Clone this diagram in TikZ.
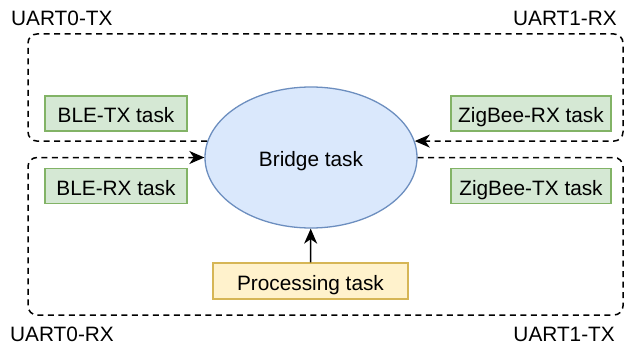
\documentclass[tikz,border=0pt]{standalone}
\usepackage{fontspec}
\setmainfont{Liberation Sans}
\usetikzlibrary{shapes.geometric,arrows.meta}

\definecolor{greenfill}{HTML}{D5E8D4}
\definecolor{greenline}{HTML}{82B366}
\definecolor{bluefill}{HTML}{DAE8FC}
\definecolor{blueline}{HTML}{6C8EBF}
\definecolor{yellowfill}{HTML}{FFF2CC}
\definecolor{yellowline}{HTML}{D6B656}

\tikzset{
  every node/.style={font=\fontsize{20.8}{24}\selectfont, inner sep=0pt},
  boxtext/.style={text height=18.4pt, text depth=0pt},
  taskbox/.style={boxtext, draw=greenline, fill=greenfill, line width=1.3pt,
    minimum height=35pt},
  procbox/.style={boxtext, draw=yellowline, fill=yellowfill, line width=1.3pt,
    minimum width=195pt, minimum height=36pt},
  bridgeshape/.style={boxtext, ellipse, draw=blueline, fill=bluefill, line width=1.3pt,
    minimum width=212pt, minimum height=141pt},
  uartlink/.style={dash pattern=on 6pt off 4.5pt, line width=1.5pt,
    rounded corners=9pt},
  tip/.style={-{Stealth[length=15pt, width=13pt, inset=4.5pt]}},
}

\begin{document}
\begin{tikzpicture}[x=1pt, y=-1pt]
  \useasboundingbox (0,0) rectangle (627,345);

  % central bridge
  \node[bridgeshape] (bridge) at (311,157.5) {Bridge task};

  % radio tasks
  \node[taskbox, minimum width=142pt] (bletx) at (116,113.5) {BLE-TX task};
  \node[taskbox, minimum width=142pt] (blerx) at (116,186) {BLE-RX task};
  \node[taskbox, minimum width=160pt] (zbrx) at (531,113.5) {ZigBee-RX task};
  \node[taskbox, minimum width=160pt] (zbtx) at (531,186) {ZigBee-TX task};

  % processing
  \node[procbox] (proc) at (310.5,281) {Processing task};

  % UART labels
  \node[anchor=base west] (u0tx) at (11,26) {UART0-TX};
  \node[anchor=base east] (u1rx) at (617,26) {UART1-RX};
  \node[anchor=base west] (u0rx) at (10,341.5) {UART0-RX};
  \node[anchor=base east] (u1tx) at (615,341.5) {UART1-TX};

  % loop corners
  \coordinate (tl) at (28,34);
  \coordinate (tr) at (623,34);
  \coordinate (bl) at (28,315);
  \coordinate (br) at (623,315);

  % UART0-TX -> UART1-RX path over the top
  \draw[uartlink, tip] (bridge.171) -| (tl) -- (tr) |- (bridge.9);

  % UART1-TX -> UART0-RX path along the bottom
  \draw[uartlink, tip] (bridge.east) -| (br) -- (bl) |- (bridge.west);

  % processing feeds the bridge
  \draw[line width=1.5pt, tip] (proc) -- (bridge);
\end{tikzpicture}
\end{document}
